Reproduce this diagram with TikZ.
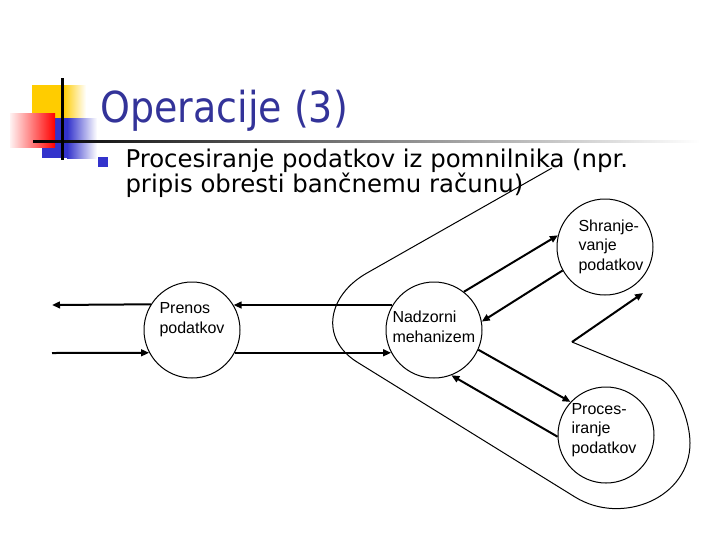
\documentclass[tikz,border=0pt]{standalone}
\usepackage{fontspec}
\setmainfont{Liberation Sans}
\newfontfamily\titlefont[FakeStretch=0.89]{DejaVu Sans}
\newfontfamily\bodyfont{DejaVu Sans}
\usetikzlibrary{arrows.meta}

\definecolor{titleblue}{RGB}{51,51,153}
\definecolor{logoblue}{RGB}{51,51,204}
\definecolor{logoyellow}{RGB}{255,204,0}

\tikzset{every picture/.style={line width=0.75pt}}
\tikzset{
  proc/.style={draw, circle, minimum size=72pt, inner sep=0pt},
  flow/.style={line width=1.5pt, -{Triangle[length=6pt,width=5pt]}},
  lbl/.style={inner sep=0pt, align=left, anchor=base west, font=\fontsize{12}{14.6}\selectfont},
}

\begin{document}
\begin{tikzpicture}[x=0.75pt,y=0.75pt,yscale=-1,xscale=1]
		\useasboundingbox (0,0) rectangle (720,540);
		
		%Logo squares
		\fill [logoyellow] (32,85) rectangle (63,120);
		\shade [left color=logoyellow, right color=white] (63,85) rectangle (86,120);
		\fill [logoblue] (42,118) rectangle (67,158);
		\shade [left color=logoblue, right color=white] (67,118) rectangle (97,158);
		\shade [left color=red!5, right color=red] (10,113) rectangle (55,147);
		%Logo lines
		\shade [left color=black, right color=white] (33,140) rectangle (700,142.5);
		\fill [black] (61,78) rectangle (63.5,160);
		
		% Title
		\node [anchor=base west, inner sep=0pt, text=titleblue, font=\titlefont\fontsize{32}{38}\selectfont] (title) at (100,122.5) {Operacije (3)};
		% Bullet
		\fill [logoblue] (98,157) rectangle (108,167);
		\node [anchor=base west, inner sep=0pt, align=left, font=\bodyfont\fontsize{18.3}{18.75}\selectfont] (point) at (125,192) {Procesiranje podatkov iz pomnilnika (npr.\\pripis obresti bančnemu računu)};
		
		%Circles
		\node [proc] (prenos) at (192,330) {};
		\node [proc] (nadzor) at (434,330) {};
		\node [proc] (shramba) at (605,247) {};
		\node [proc] (obdelava) at (606,435) {};
		
		% Text Node
		\node [lbl] (prenos-t) at (159,333) {Prenos\\podatkov};
		% Text Node
		\node [lbl] (nadzor-t) at (392,342) {Nadzorni\\mehanizem};
		% Text Node
		\node [lbl] (shramba-t) at (578,270) {Shranje-\\vanje\\podatkov};
		% Text Node
		\node [lbl] (obdelava-t) at (571,453) {Proces-\\iranje\\podatkov};
		
		%Loop
		\draw (552,168) -- (367,273) .. controls (328,295) and (319,338) .. (357,362) -- (575,497) .. controls (622,526) and (690,498) .. (690,443) .. controls (690,421) and (677,385) .. (657,377) -- (572,342);
		
		%Free ends
		\coordinate (izhod) at (52,305);
		\coordinate (vhod) at (52,353);
		\coordinate (zanka) at (572,342);
		\coordinate (iztok) at (643,293);
		
		%Arrows
		\draw [flow] (prenos.148.6) -- (izhod);
		\draw [flow] (vhod) -- (prenos.208.6);
		\draw [flow] (nadzor.149.3) -- (prenos.31.4);
		\draw [flow] (prenos.-28.6) -- (nadzor.208);
		\draw [flow] (nadzor.52) -- (shramba.166);
		\draw [flow] (shramba.209) -- (nadzor.10);
		\draw [flow] (nadzor.-24) -- (obdelava.137);
		\draw [flow] (obdelava.182) -- (nadzor.-69);
		\draw [flow] (zanka) -- (iztok);
		
	\end{tikzpicture}
\end{document}
